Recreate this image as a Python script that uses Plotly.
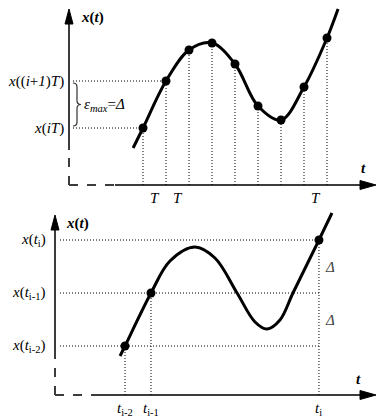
import plotly.graph_objects as go

# ---------------- data ----------------
# Top panel: uniform sampling x(iT)
top_sample_t = [0, 1, 2, 3, 4, 5, 6, 7, 8]
top_sample_x = [5.7, 10.4, 13.5, 14.2, 12.1, 7.9, 6.5, 9.8, 14.7]
top_curve_t = [-0.43, 0, 1, 2, 3, 4, 5, 6, 7, 8, 8.48]
top_curve_x = [3.7, 5.7, 10.4, 13.5, 14.2, 12.1, 7.9, 6.5, 9.8, 14.7, 17.6]
top_level_labels = ["<i>x</i>(<i>iT</i>)", "<i>x</i>((<i>i</i>+<i>1</i>)<i>T</i>)"]
top_tick_t = [0.5, 1.5, 7.5]
top_tick_labels = ["<i>T</i>", "<i>T</i>", "<i>T</i>"]

# Bottom panel: send-on-delta sampling
bot_sample_t = [0, 1, 7.46]
bot_sample_x = [4.9, 10.2, 15.5]
bot_curve_t = [-0.19, 0, 1, 1.73, 2.69, 3.46, 4.31, 5.0, 5.46, 5.96, 6.46, 7.46, 7.96]
bot_curve_x = [3.9, 4.9, 10.2, 13.4, 14.8, 13.7, 10.2, 7.3, 6.6, 7.5, 10.2, 15.5, 18.2]
bot_level_labels = ["<i>x</i>(<i>t</i><sub>i-2</sub>)", "<i>x</i>(<i>t</i><sub>i-1</sub>)", "<i>x</i>(<i>t</i><sub>i</sub>)"]
bot_tick_labels = ["<i>t</i><sub>i-2</sub>", "<i>t</i><sub>i-1</sub>", "<i>t</i><sub>i</sub>"]

# ---------------- layout geometry ----------------
W, H = 377, 417
split = 205 / H
FONT = "'Liberation Serif', 'Times New Roman', serif"
AX = "#3c3c3c"
DOT = "1px,2px"

TX = [-143 / 23, 234 / 23]
TY = [-2.0, 18.5]
BX = [-125 / 26, 252 / 26]
BY = [-2.2, 19.0]

tpx = (TX[1] - TX[0]) / W
tpy = (TY[1] - TY[0]) / 205
bpx = (BX[1] - BX[0]) / W
bpy = (BY[1] - BY[0]) / (H - 205)

fig = go.Figure()

def line(x0, y0, x1, y1, ax, dash="solid", width=1, color="black"):
    xr, yr = ("x", "y") if ax == 1 else ("x2", "y2")
    fig.add_shape(type="line", x0=x0, y0=y0, x1=x1, y1=y1, xref=xr, yref=yr,
                  line=dict(color=color, width=width, dash=dash), layer="below")

def tri(pts, ax):
    xr, yr = ("x", "y") if ax == 1 else ("x2", "y2")
    p = "M " + " L ".join(f"{a},{b}" for a, b in pts) + " Z"
    fig.add_shape(type="path", path=p, xref=xr, yref=yr,
                  fillcolor="black", line=dict(color="black", width=1))

def text(x, y, s, ax, size=15, xanchor="center", color="black"):
    xr, yr = ("x", "y") if ax == 1 else ("x2", "y2")
    fig.add_annotation(x=x, y=y, xref=xr, yref=yr, text=s, showarrow=False,
                       xanchor=xanchor, yanchor="middle",
                       font=dict(family=FONT, size=size, color=color))

# ---------- top panel axes ----------
ty_axis_t = TX[0] + 69 * tpx
line(ty_axis_t, 0, ty_axis_t, 3.5, 1, dash="dash", width=2, color=AX)
line(ty_axis_t, 3.5, ty_axis_t, TY[1] - 22 * tpy, 1, width=2, color=AX)
tri([(ty_axis_t, TY[1] - 9 * tpy), (ty_axis_t - 4 * tpx, TY[1] - 24 * tpy),
     (ty_axis_t + 4 * tpx, TY[1] - 24 * tpy)], 1)
line(ty_axis_t, 0, TX[0] + 115 * tpx, 0, 1, dash="dash", width=2, color=AX)
line(TX[0] + 115 * tpx, 0, TX[1] - 14 * tpx, 0, 1, width=2, color=AX)
tri([(TX[1] - 1 * tpx, 0), (TX[1] - 17 * tpx, 4.5 * tpy), (TX[1] - 17 * tpx, -4.5 * tpy)], 1)

for t, v in zip(top_sample_t, top_sample_x):
    line(t, 0, t, v, 1, dash=DOT, width=1)
for t, v in zip(top_sample_t[:2], top_sample_x[:2]):
    line(ty_axis_t + 4 * tpx, v, t, v, 1, dash=DOT, width=1)

# brace
x0 = ty_axis_t + 4 * tpx
x1 = ty_axis_t + 8 * tpx
x2 = ty_axis_t + 12 * tpx
ytop = top_sample_x[1] - 2 * tpy
ybot = top_sample_x[0] + 2 * tpy
ymid = (ytop + ybot) / 2
d = 4 * tpy
bp = (f"M {x0},{ytop} Q {x1},{ytop} {x1},{ytop - d} L {x1},{ymid + d} "
      f"Q {x1},{ymid} {x2},{ymid} Q {x1},{ymid} {x1},{ymid - d} "
      f"L {x1},{ybot + d} Q {x1},{ybot} {x0},{ybot}")
fig.add_shape(type="path", path=bp, xref="x", yref="y", line=dict(color="#333", width=1.2))

fig.add_trace(go.Scatter(x=top_curve_t, y=top_curve_x, mode="lines",
                         line=dict(color="black", width=3, shape="spline", smoothing=1),
                         xaxis="x", yaxis="y", hoverinfo="skip"))
fig.add_trace(go.Scatter(x=top_sample_t, y=top_sample_x, mode="markers",
                         marker=dict(color="black", size=9),
                         xaxis="x", yaxis="y", hoverinfo="skip"))

for v, s in zip(top_sample_x[:2], top_level_labels):
    text(TX[0] + 66 * tpx, v, s, 1, xanchor="right")
text(TX[0] + 82 * tpx, 8.0, "<i>ε<sub>max</sub></i>=<i>Δ</i>", 1, xanchor="left")
for t, s in zip(top_tick_t, top_tick_labels):
    text(t, -1.3, s, 1)
text(TX[0] + 79 * tpx, TY[1] - 17 * tpy, "<b><i>x</i>(<i>t</i>)</b>", 1, xanchor="left")
text(TX[0] + 363 * tpx, 1.7, "<b><i>t</i></b>", 1)

# ---------- bottom panel axes ----------
by_axis_t = BX[0] + 55 * bpx
line(by_axis_t, 0, by_axis_t, 4.3, 2, dash="dash", width=2, color=AX)
line(by_axis_t, 4.3, by_axis_t, BY[1] - 24 * bpy, 2, width=2, color=AX)
tri([(by_axis_t, BY[1] - 10 * bpy), (by_axis_t - 4 * bpx, BY[1] - 25 * bpy),
     (by_axis_t + 4 * bpx, BY[1] - 25 * bpy)], 2)
line(by_axis_t, 0, BX[0] + 100 * bpx, 0, 2, dash="dash", width=2, color=AX)
line(BX[0] + 100 * bpx, 0, BX[1] - 14 * bpx, 0, 2, width=2, color=AX)
tri([(BX[1] - 1 * bpx, 0), (BX[1] - 17 * bpx, 4.5 * bpy), (BX[1] - 17 * bpx, -4.5 * bpy)], 2)

for t, v in zip(bot_sample_t, bot_sample_x):
    line(t, 0, t, v, 2, dash=DOT, width=1)
    line(by_axis_t + 5 * bpx, v, bot_sample_t[-1], v, 2, dash=DOT, width=1)

fig.add_trace(go.Scatter(x=bot_curve_t, y=bot_curve_x, mode="lines",
                         line=dict(color="black", width=3, shape="spline", smoothing=1),
                         xaxis="x2", yaxis="y2", hoverinfo="skip"))
fig.add_trace(go.Scatter(x=bot_sample_t, y=bot_sample_x, mode="markers",
                         marker=dict(color="black", size=9),
                         xaxis="x2", yaxis="y2", hoverinfo="skip"))

for v, s in zip(bot_sample_x, bot_level_labels):
    text(BX[0] + 48 * bpx, v, s, 2, xanchor="right")
for t, s in zip(bot_sample_t, bot_tick_labels):
    text(t, -1.35, s, 2)
for a, b in zip(bot_sample_x[:-1], bot_sample_x[1:]):
    text(bot_sample_t[-1] + 11 * bpx, (a + b) / 2, "<i>Δ</i>", 2, color="#444")
text(BX[0] + 64 * bpx, BY[1] - 18 * bpy, "<b><i>x</i>(<i>t</i>)</b>", 2, xanchor="left")
text(BX[0] + 358 * bpx, 1.6, "<b><i>t</i></b>", 2)

ax_common = dict(visible=False, showgrid=False, zeroline=False, fixedrange=True)
fig.update_layout(
    width=W, height=H, margin=dict(l=0, r=0, t=0, b=0),
    paper_bgcolor="white", plot_bgcolor="white", showlegend=False,
    font=dict(family=FONT, size=15, color="black"),
    xaxis=dict(range=TX, domain=[0, 1], anchor="y", **ax_common),
    yaxis=dict(range=TY, domain=[1 - split, 1], anchor="x", **ax_common),
    xaxis2=dict(range=BX, domain=[0, 1], anchor="y2", **ax_common),
    yaxis2=dict(range=BY, domain=[0, 1 - split], anchor="x2", **ax_common),
)

fig.write_html("out.html", config={"displayModeBar": False},
               post_script="document.body.style.margin='0px';document.body.style.overflow='hidden';")
